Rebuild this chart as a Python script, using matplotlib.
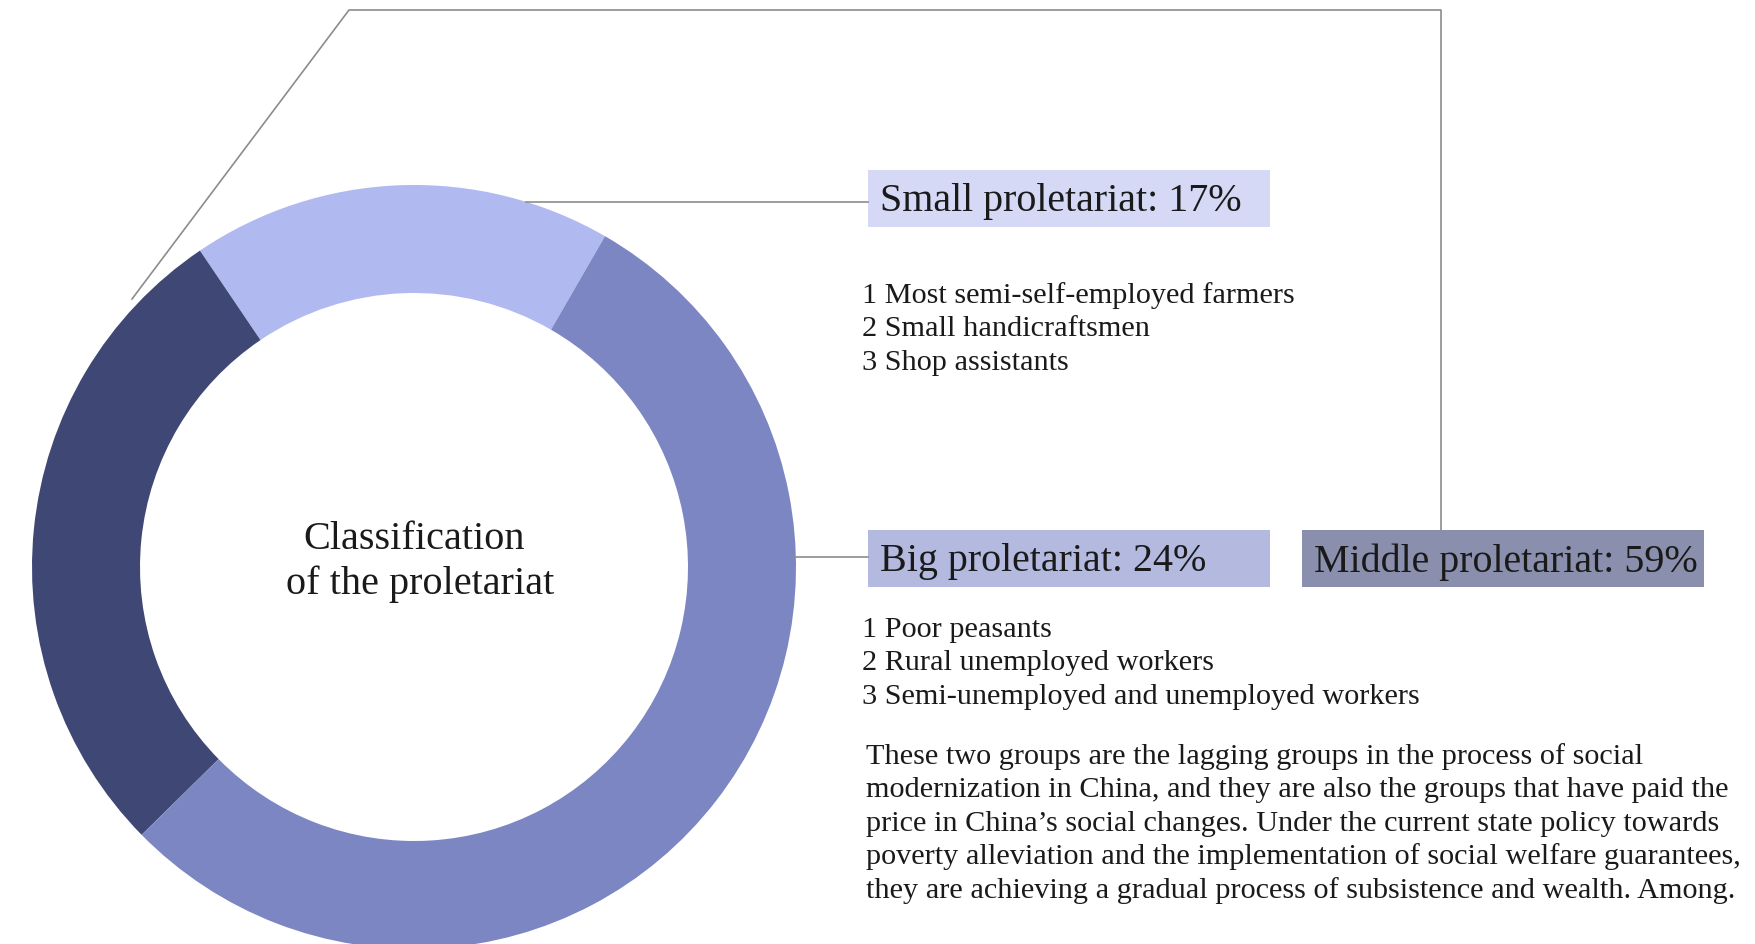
import matplotlib
matplotlib.use("Agg")
from matplotlib import pyplot as plt
from matplotlib.patches import Rectangle

# ring segments, in drawing order (counter-clockwise from the top right)
groups = ["Small proletariat", "Big proletariat", "Middle proletariat"]
label_pct = [17, 24, 59]
arc_share = [17.8, 27.9, 54.3]   # share of the ring as it is drawn
ring_colors = ["#b0b9f0", "#3f4875", "#7c86c2"]
box_colors = ["#d5d9f6", "#b3b9df", "#8a8fae"]

small_items = ["1 Most semi-self-employed farmers",
               "2 Small handicraftsmen",
               "3 Shop assistants"]
big_items = ["1 Poor peasants",
             "2 Rural unemployed workers",
             "3 Semi-unemployed and unemployed workers"]
note_lines = [
    "These two groups are the lagging groups in the process of social",
    "modernization in China, and they are also the groups that have paid the",
    "price in China\u2019s social changes. Under the current state policy towards",
    "poverty alleviation and the implementation of social welfare guarantees,",
    "they are achieving a gradual process of subsistence and wealth. Among.",
]

W, H = 1756, 945
FONT = "Liberation Serif"
TXT = "#1a1a1a"
LINE = "#8c8c8c"

fig = plt.figure(figsize=(W / 100, H / 100), dpi=100)
ax = fig.add_axes([0, 0, 1, 1])

def Y(y):
    # pixel row (from top) -> data y
    return H - y

# donut
ax.pie(arc_share, colors=ring_colors, startangle=60, counterclock=True,
       center=(414, Y(568)), radius=382, frame=True,
       wedgeprops=dict(width=108, linewidth=0))

ax.text(414, Y(540), "Classification", ha="center", va="center",
        fontsize=29, family=FONT, color=TXT)
ax.text(420, Y(584), "of the proletariat", ha="center", va="center",
        fontsize=29, family=FONT, color=TXT)

# frame lines
ax.plot([132, 349, 1441, 1441], [Y(300), Y(11), Y(11), Y(531)],
        color=LINE, lw=1.2)
ax.plot([526, 868], [Y(203), Y(203)], color=LINE, lw=1.2)
ax.plot([792, 868], [Y(558), Y(558)], color=LINE, lw=1.2)

# label boxes
boxes = [(868, 171), (868, 531), (1302, 531)]
for (bx, by), name, pct, col in zip(boxes, groups, label_pct, box_colors):
    ax.add_patch(Rectangle((bx, Y(by + 57)), 402, 57, facecolor=col,
                           edgecolor="none"))
    ax.text(bx + 12, Y(by + 31), f"{name}: {pct}%", ha="left", va="center",
            fontsize=28.8, family=FONT, color=TXT)

for i, s in enumerate(small_items):
    ax.text(862, Y(296 + i * 33.5), s, ha="left", va="center",
            fontsize=21.8, family=FONT, color=TXT)
for i, s in enumerate(big_items):
    ax.text(862, Y(630 + i * 33.5), s, ha="left", va="center",
            fontsize=21.8, family=FONT, color=TXT)
for i, s in enumerate(note_lines):
    ax.text(866, Y(757 + i * 33.3), s, ha="left", va="center",
            fontsize=21.8, family=FONT, color=TXT)

ax.set_xlim(0, W)
ax.set_ylim(0, H)
ax.set_aspect("equal")
ax.axis("off")

fig.savefig("out.png", dpi=100, facecolor="white")
